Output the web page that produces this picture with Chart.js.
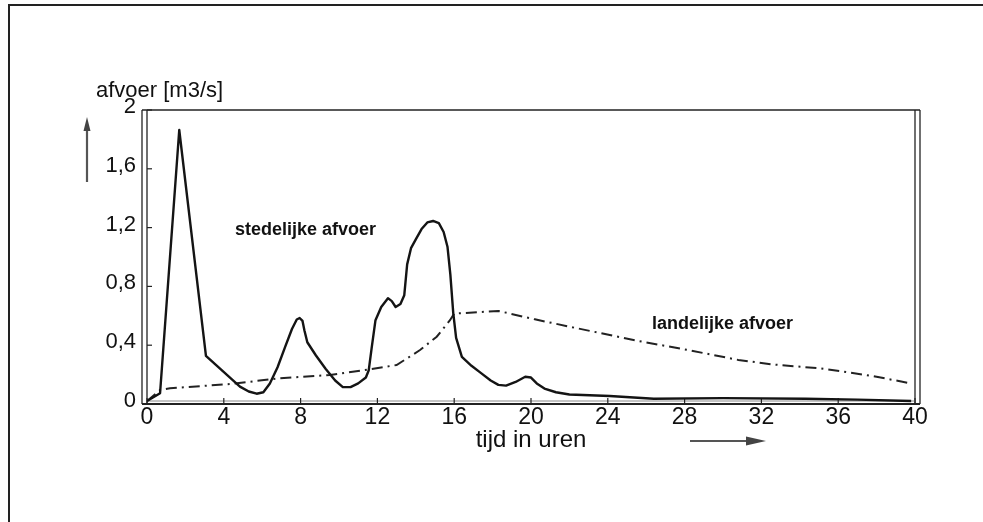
<!DOCTYPE html>
<html><head><meta charset="utf-8">
<script src="https://cdn.jsdelivr.net/npm/chart.js@4.4.1/dist/chart.umd.min.js"></script>
<style>
html,body{margin:0;padding:0;background:#fff;}
#wrap{position:relative;width:983px;height:522px;overflow:hidden;}
#frame{position:absolute;left:8px;top:4px;width:990px;height:530px;border-top:2px solid #222;border-left:2px solid #222;}
canvas{position:absolute;left:0;top:0;}
</style></head><body>
<div id="wrap"><div id="frame"></div><canvas id="c" width="983" height="522"></canvas></div>
<script>
// hours
const stedelijkeX = [0, 0.68, 1.68, 3.07, 4.84, 5.3, 5.71, 6.06, 6.4, 6.8, 7.2, 7.55, 7.8, 7.95, 8.1, 8.2, 8.35, 8.8, 9.3, 9.8, 10.2, 10.6, 11.0, 11.4, 11.55, 11.7, 11.9, 12.2, 12.55, 12.75, 12.95, 13.2, 13.4, 13.55, 13.75, 14.0, 14.3, 14.6, 14.9, 15.2, 15.45, 15.65, 15.8, 15.95, 16.1, 16.4, 16.9, 17.4, 17.9, 18.3, 18.7, 19.2, 19.7, 20.0, 20.3, 20.7, 21.3, 22.0, 24.1, 26.4, 30.0, 34.3, 37.0, 39.8];
// m3/s
const stedelijkeY = [0.02, 0.073, 1.864, 0.327, 0.118, 0.085, 0.07, 0.08, 0.14, 0.25, 0.39, 0.51, 0.575, 0.585, 0.565, 0.5, 0.42, 0.33, 0.24, 0.16, 0.115, 0.115, 0.14, 0.18, 0.23, 0.38, 0.57, 0.66, 0.72, 0.7, 0.66, 0.68, 0.74, 0.95, 1.06, 1.12, 1.19, 1.235, 1.245, 1.23, 1.17, 1.07, 0.88, 0.62, 0.45, 0.32, 0.26, 0.21, 0.16, 0.13, 0.125, 0.15, 0.185, 0.18, 0.14, 0.105, 0.08, 0.065, 0.054, 0.036, 0.04, 0.036, 0.03, 0.02];
const landelijkeX = [0, 0.68, 1.2, 4.32, 6.93, 9.53, 11.27, 13.0, 14.22, 15.09, 15.78, 16.0, 18.3, 20.2, 22.3, 25.5, 28.1, 30.8, 32.5, 35.0, 36.1, 37.8, 39.8];
const landelijkeY = [0.02, 0.095, 0.107, 0.136, 0.175, 0.197, 0.23, 0.265, 0.367, 0.458, 0.57, 0.615, 0.633, 0.576, 0.518, 0.431, 0.369, 0.30, 0.27, 0.243, 0.224, 0.19, 0.14];
const xTicks = [0, 4, 8, 12, 16, 20, 24, 28, 32, 36, 40];
const xTickLabels = ['0', '4', '8', '12', '16', '20', '24', '28', '32', '36', '40'];
const yTicks = [0, 0.4, 0.8, 1.2, 1.6, 2];
const yTickLabels = ['0', '0,4', '0,8', '1,2', '1,6', '2'];
const seriesNames = ['stedelijke afvoer', 'landelijke afvoer'];
const yAxisTitle = 'afvoer [m3/s]';
const xAxisTitle = 'tijd in uren';

const FONT = '"Liberation Sans", Arial, sans-serif';

function seg(ctx, x1, y1, x2, y2) { ctx.beginPath(); ctx.moveTo(x1, y1); ctx.lineTo(x2, y2); ctx.stroke(); }

const decor = {
  id: 'decor',
  beforeDatasetsDraw(chart) {
    const ctx = chart.ctx, a = chart.chartArea;
    const xs = chart.scales.x, ys = chart.scales.y;
    ctx.save();
    ctx.strokeStyle = '#222';
    ctx.lineWidth = 1.3;
    seg(ctx, a.left - 5, a.top, a.right + 5, a.top);
    seg(ctx, a.left - 5, a.top, a.left - 5, a.bottom);
    seg(ctx, a.left, a.top, a.left, a.bottom);
    seg(ctx, a.right, a.top, a.right, a.bottom);
    seg(ctx, a.right + 5, a.top, a.right + 5, a.bottom);
    ctx.lineWidth = 2;
    seg(ctx, a.left - 5, a.bottom, a.right + 5, a.bottom);
    ctx.lineWidth = 1;
    ctx.strokeStyle = '#888';
    seg(ctx, a.left, a.bottom - 3, a.right, a.bottom - 3);
    ctx.strokeStyle = '#222';
    ctx.lineWidth = 1.2;
    yTicks.forEach(v => { const p = ys.getPixelForValue(v); seg(ctx, a.left, p, a.left + 5, p); });
    xTicks.forEach(v => { const p = xs.getPixelForValue(v); seg(ctx, p, a.bottom, p, a.bottom - 6); });
    ctx.restore();
  },
  afterDraw(chart) {
    const ctx = chart.ctx;
    ctx.save();
    ctx.fillStyle = '#111';
    ctx.textBaseline = 'middle';
    ctx.textAlign = 'left';
    ctx.font = '22px ' + FONT;
    ctx.fillText(yAxisTitle, 96, 91);
    ctx.font = '24px ' + FONT;
    ctx.textAlign = 'center';
    ctx.fillText(xAxisTitle, 531, 440);
    ctx.textAlign = 'left';
    ctx.font = 'bold 18px ' + FONT;
    ctx.fillText(seriesNames[0], 235, 230);
    ctx.fillText(seriesNames[1], 652, 324);
    // arrows
    ctx.strokeStyle = '#555';
    ctx.fillStyle = '#444';
    ctx.lineWidth = 2.2;
    seg(ctx, 87, 182, 87, 128);
    ctx.beginPath(); ctx.moveTo(87, 117); ctx.lineTo(83.5, 131); ctx.lineTo(90.5, 131); ctx.closePath(); ctx.fill();
    seg(ctx, 690, 441, 748, 441);
    ctx.beginPath(); ctx.moveTo(766, 441); ctx.lineTo(746, 436.5); ctx.lineTo(746, 445.5); ctx.closePath(); ctx.fill();
    ctx.restore();
  }
};

new Chart(document.getElementById('c'), {
  type: 'line',
  data: {
    datasets: [
      {
        label: seriesNames[0],
        data: stedelijkeX.map((x, i) => ({ x: x, y: stedelijkeY[i] })),
        borderColor: '#141414', borderWidth: 2.4, pointRadius: 0, tension: 0, fill: false, borderJoinStyle: 'round'
      },
      {
        label: seriesNames[1],
        data: landelijkeX.map((x, i) => ({ x: x, y: landelijkeY[i] })),
        borderColor: '#222', borderWidth: 2, borderDash: [11, 5, 2, 5], pointRadius: 0, tension: 0, fill: false
      }
    ]
  },
  options: {
    responsive: false, animation: false, events: [],
    layout: { padding: { left: 0, top: 110, right: 68, bottom: 88 } },
    plugins: { legend: { display: false }, tooltip: { enabled: false } },
    scales: {
      x: {
        type: 'linear', min: 0, max: 40,
        afterFit(s) { s.height = 30; },
        afterBuildTicks(s) { s.ticks = xTicks.map(v => ({ value: v })); },
        grid: { display: false, drawTicks: false }, border: { display: false },
        ticks: { padding: 0, autoSkip: false, maxRotation: 0, color: '#111', font: { family: FONT, size: 23 },
          callback: (v) => xTickLabels[xTicks.indexOf(v)] }
      },
      y: {
        type: 'linear', min: 0, max: 2,
        afterFit(s) { s.width = 147; },
        afterBuildTicks(s) { s.ticks = yTicks.map(v => ({ value: v })); },
        grid: { display: false, drawTicks: false }, border: { display: false },
        ticks: { padding: 11, labelOffset: -3, color: '#111', font: { family: FONT, size: 22 },
          callback: (v) => yTickLabels[yTicks.indexOf(v)] }
      }
    }
  },
  plugins: [decor]
});
</script>
</body></html>
